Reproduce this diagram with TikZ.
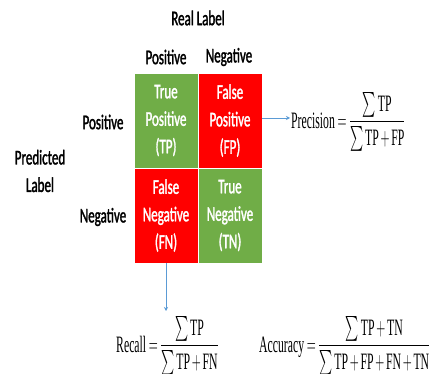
\documentclass[tikz,border=0pt]{standalone}
\usepackage{amsmath}
\usepackage{fontspec}
\usepackage{graphicx}
\setmainfont{Liberation Serif}
\newfontfamily\lab[FakeStretch=0.62,FakeBold=1.5]{Carlito}
\usetikzlibrary{arrows.meta}
\definecolor{cgreen}{HTML}{70AD47}
\definecolor{cred}{HTML}{FF0000}
\definecolor{cblue}{HTML}{5B9BD5}
\tikzset{
  cell/.style={minimum width=64pt,minimum height=95pt,inner sep=0pt,align=center,text=white,draw=white,line width=0.4pt,font=\lab\fontsize{21}{27.5}\selectfont},
  lbl/.style={inner sep=0pt,align=center,font=\lab\fontsize{21}{27.5}\selectfont},
  formula/.style={inner sep=0pt,font=\fontsize{23.5}{27}\selectfont},
  conn/.style={cblue,line width=0.6pt,-{Stealth[length=4pt,width=4pt]}}
}
\newcommand{\squeeze}[1]{\scalebox{0.5}[1]{\medmuskip=2.5mu plus 1mu minus 1mu\thickmuskip=4mu #1}}
\begin{document}
\begin{tikzpicture}[x=1pt,y=-1pt]
\useasboundingbox (0,0) rectangle (437,374);
\node[cell,fill=cgreen] (tp) at (166,120.5) {True\\Positive\\(TP)};
\node[cell,fill=cred] (fp) at (230,120.5) {False\\Positive\\(FP)};
\node[cell,fill=cred] (fn) at (166,215.5) {False\\Negative\\(FN)};
\node[cell,fill=cgreen] (tn) at (230,215.5) {True\\Negative\\(TN)};
\node[lbl] (real) at (198,18) {Real Label};
\node[lbl] (cpos) at (166,57) {Positive};
\node[lbl] (cneg) at (229,57) {Negative};
\node[lbl] (rpos) at (103,122) {Positive};
\node[lbl] (rneg) at (103,217) {Negative};
\node[lbl] (pred) at (40,171) {Predicted\\Label};
\node[formula,anchor=west] (prec) at (291,122) {\squeeze{$\mathrm{Precision}=\dfrac{\sum\mathrm{TP}}{\sum\mathrm{TP}+\mathrm{FP}}$}};
\node[formula,anchor=west] (rec) at (116,346) {\squeeze{$\mathrm{Recall}=\dfrac{\sum\mathrm{TP}}{\sum\mathrm{TP}+\mathrm{FN}}$}};
\node[formula,anchor=west] (acc) at (259,346) {\squeeze{$\mathrm{Accuracy}=\dfrac{\sum\mathrm{TP}+\mathrm{TN}}{\sum\mathrm{TP}+\mathrm{FP}+\mathrm{FN}+\mathrm{TN}}$}};
\coordinate (ptarget) at (290,118);
\coordinate (rtarget) at (166,311);
\draw[conn] (fp.east |- ptarget) -- (ptarget);
\draw[conn] (fn.south) -- (rtarget);
\end{tikzpicture}
\end{document}
